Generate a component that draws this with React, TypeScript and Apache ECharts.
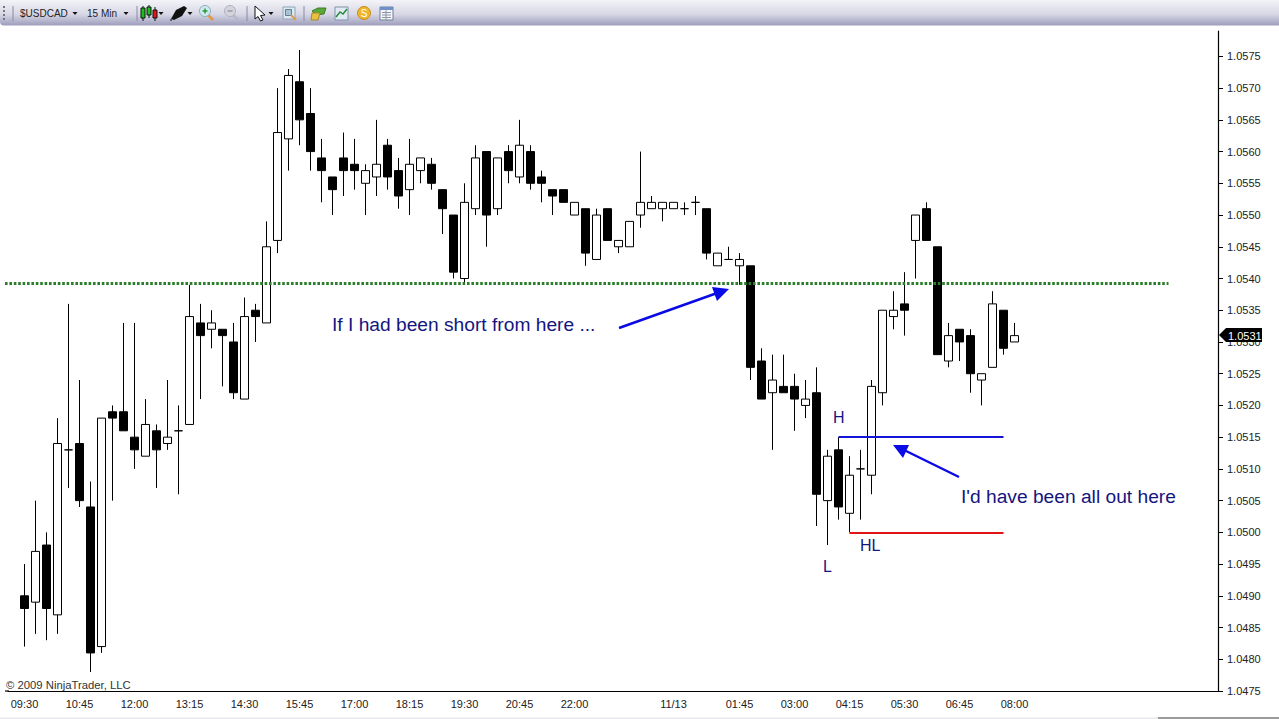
import React, { useEffect, useRef } from "react";
import * as echarts from "echarts";

const categories = [
  "09:30","09:45","10:00","10:15","10:30","10:45","11:00","11:15","11:30","11:45",
  "12:00","12:15","12:30","12:45","13:00","13:15","13:30","13:45","14:00","14:15",
  "14:30","14:45","15:00","15:15","15:30","15:45","16:00","16:15","16:30","16:45",
  "17:00","17:15","17:30","17:45","18:00","18:15","18:30","18:45","19:00","19:15",
  "19:30","19:45","20:00","20:15","20:30","20:45","21:00","21:15","21:30","21:45",
  "22:00","22:15","22:30","22:45","23:00","23:15","23:30","23:45","00:00","00:15",
  "00:30","00:45","01:00","01:15","01:30","01:45","02:00","02:15","02:30","02:45",
  "03:00","03:15","03:30","03:45","04:00","04:15","04:30","04:45","05:00","05:15",
  "05:30","05:45","06:00","06:15","06:30","06:45","07:00","07:15","07:30","07:45","08:00",
];
const tickTimes = ["09:30","10:45","12:00","13:15","14:30","15:45","17:00","18:15","19:30","20:45","22:00","23:15","00:15","01:45","03:00","04:15","05:30","06:45","08:00"];
const unlabelledTimes = ["23:15"];
const dateLabels: Record<string, string> = { "00:15": "11/13" };
const yTicks = [1.0475,1.048,1.0485,1.049,1.0495,1.05,1.0505,1.051,1.0515,1.052,1.0525,1.053,1.0535,1.054,1.0545,1.055,1.0555,1.056,1.0565,1.057,1.0575];

const opens = [1.0490,1.0489,1.0498,1.0487,1.0513,1.0514,1.0504,1.0482,1.0519,1.0519,1.0515,1.0512,1.0516,1.0514,1.0516,1.0517,1.0533,1.0532,1.0532,1.0530,1.0521,1.0535,1.0533,1.0546,1.0562,1.0571,1.0566,1.0559,1.0556,1.0559,1.0558,1.0555,1.0556,1.0561,1.0557,1.0554,1.0557,1.0558,1.0554,1.0550,1.0540,1.0551,1.0560,1.0551,1.0560,1.0556,1.0560,1.0556,1.0554,1.0554,1.0550,1.0551,1.0543,1.0551,1.0545,1.0545,1.0550,1.0551,1.0551,1.0551,1.0551,1.0552,1.0551,1.0542,1.0543,1.0542,1.0542,1.0527,1.0522,1.0523,1.0523,1.0520,1.0522,1.0505,1.0513,1.0503,1.0510,1.0509,1.0522,1.0534,1.0536,1.0546,1.0551,1.0545,1.0527,1.0532,1.0531,1.0524,1.0526,1.0535,1.0530];
const closes = [1.0488,1.0497,1.0488,1.0514,1.0513,1.0505,1.0481,1.0518,1.0518,1.0516,1.0513,1.0517,1.0513,1.0515,1.0516,1.0534,1.0531,1.0533,1.0531,1.0522,1.0534,1.0534,1.0545,1.0563,1.0572,1.0565,1.0560,1.0557,1.0554,1.0557,1.0557,1.0557,1.0558,1.0556,1.0553,1.0558,1.0559,1.0555,1.0551,1.0541,1.0552,1.0559,1.0550,1.0559,1.0557,1.0561,1.0555,1.0555,1.0553,1.0552,1.0552,1.0544,1.0550,1.0546,1.0546,1.0549,1.0552,1.0552,1.0552,1.0552,1.0551,1.0552,1.0544,1.0544,1.0543,1.0543,1.0526,1.0521,1.0524,1.0522,1.0521,1.0521,1.0506,1.0512,1.0504,1.0509,1.0510,1.0523,1.0535,1.0535,1.0535,1.0550,1.0546,1.0528,1.0531,1.0530,1.0525,1.0525,1.0536,1.0529,1.0531];
const lows = [1.0482,1.0484,1.0483,1.0484,1.0507,1.0504,1.0478,1.0481,1.0505,1.0516,1.0510,1.0512,1.0507,1.0513,1.0506,1.0517,1.0521,1.0529,1.0523,1.0521,1.0521,1.0530,1.0533,1.0544,1.0557,1.0561,1.0557,1.0552,1.0550,1.0553,1.0554,1.0550,1.0553,1.0554,1.0551,1.0550,1.0555,1.0554,1.0547,1.0540,1.0539,1.0550,1.0545,1.0550,1.0555,1.0555,1.0554,1.0552,1.0550,1.0552,1.0550,1.0542,1.0543,1.0546,1.0544,1.0545,1.0548,1.0551,1.0549,1.0551,1.0550,1.0550,1.0543,1.0542,1.0543,1.0539,1.0524,1.0521,1.0513,1.0522,1.0516,1.0518,1.0501,1.0498,1.0502,1.0500,1.0502,1.0506,1.0520,1.0532,1.0531,1.0540,1.0546,1.0528,1.0526,1.0527,1.0522,1.0520,1.0526,1.0528,1.0530];
const highs = [1.0495,1.0505,1.0500,1.0518,1.0536,1.0524,1.0508,1.0518,1.0520,1.0533,1.0533,1.0521,1.0517,1.0524,1.0520,1.0539,1.0536,1.0535,1.0532,1.0533,1.0537,1.0536,1.0549,1.0570,1.0573,1.0576,1.0570,1.0562,1.0556,1.0563,1.0562,1.0558,1.0565,1.0562,1.0559,1.0562,1.0559,1.0559,1.0554,1.0550,1.0555,1.0561,1.0560,1.0559,1.0561,1.0565,1.0561,1.0557,1.0554,1.0554,1.0552,1.0551,1.0551,1.0551,1.0546,1.0549,1.0560,1.0553,1.0552,1.0552,1.0552,1.0553,1.0551,1.0544,1.0545,1.0544,1.0542,1.0529,1.0528,1.0528,1.0525,1.0524,1.0526,1.0513,1.0515,1.0512,1.0513,1.0524,1.0535,1.0538,1.0541,1.0550,1.0552,1.0545,1.0533,1.0532,1.0532,1.0525,1.0538,1.0535,1.0533];

const resistanceLevel = 1.05392;
const highLevel = 1.05151;
const higherLowLevel = 1.04999;
const lastPrice = "1.0531";

const FONT = '"Liberation Sans", Arial, sans-serif';
const NAVY = "#15157f";
const ARROW = "#0a0ae6";

const LEFT_PAD = 1;
const RIGHT_PAD = 18;
const axisCategories = [
  ...Array.from({ length: LEFT_PAD }, (_, i) => `pad-l${i}`),
  ...categories,
  ...Array.from({ length: RIGHT_PAD }, (_, i) => `pad-r${i}`),
];
const candleData = [
  ...Array.from({ length: LEFT_PAD }, () => ["-", "-", "-", "-"]),
  ...categories.map((_, i) => [opens[i], closes[i], lows[i], highs[i]]),
];

const rect = (x: number, y: number, w: number, h: number, fill: string, stroke?: string) => ({
  type: "rect", z: 20, shape: { x, y, width: w, height: h }, style: { fill, stroke: stroke ?? "none", lineWidth: 1 },
});
const poly = (points: number[][], fill: string, stroke?: string, lineWidth = 1) => ({
  type: "polygon", z: 20, shape: { points }, style: { fill, stroke: stroke ?? "none", lineWidth },
});
const seg = (x1: number, y1: number, x2: number, y2: number, stroke: string, lineWidth = 1) => ({
  type: "line", z: 20, shape: { x1, y1, x2, y2 }, style: { stroke, lineWidth },
});
const label = (text: string, x: number, y: number, fontSize: number, fill: string, align = "left") => ({
  type: "text", z: 25, x, y,
  style: { text, fontSize, fontFamily: FONT, fill, align, verticalAlign: "middle" },
});
const caret = (x: number) => poly([[x - 2.5, 12], [x + 2.5, 12], [x, 15]], "#111");
const circle = (cx: number, cy: number, r: number, fill: string, stroke: string, lineWidth = 1) => ({
  type: "circle", z: 20, shape: { cx, cy, r }, style: { fill, stroke, lineWidth },
});

const toolbar: any[] = [
  {
    type: "rect", z: 19,
    shape: { x: 0, y: 0, width: 1279, height: 25.5, r: [0, 0, 0, 4] },
    style: {
      fill: new echarts.graphic.LinearGradient(0, 0, 0, 1, [
        { offset: 0, color: "#f3f3f8" },
        { offset: 0.55, color: "#d8d8e6" },
        { offset: 1, color: "#9d9dbd" },
      ]),
    },
  },
  rect(3, 6, 2, 2, "#777"), rect(3, 10, 2, 2, "#777"), rect(3, 14, 2, 2, "#777"), rect(3, 18, 2, 2, "#777"),
  seg(13, 6, 13, 21, "#8a8aa0"),
  label("$USDCAD", 20, 13.5, 10, "#222"),
  caret(75),
  label("15 Min", 87, 13.5, 10, "#222"),
  caret(126),
  seg(137, 6, 137, 21, "#8a8aa0"),
  seg(143, 6, 143, 21, "#111"), rect(141, 8, 4, 10, "#18c018", "#111"),
  seg(149, 5, 149, 18, "#111"), rect(147, 7, 4, 8, "#18c018", "#111"),
  seg(155, 7, 155, 21, "#111"), rect(153, 10, 4, 8, "#e01818", "#111"),
  caret(161),
  poly([[171, 19], [176, 10], [184, 6], [187, 8], [182, 16], [174, 20]], "#111"),
  seg(172, 20, 170, 20, "#111"),
  caret(190),
  seg(207, 14, 213, 20, "#e09a50", 3), circle(205, 11, 5.5, "#cfe8ee", "#88aebb"),
  seg(202.5, 11, 207.5, 11, "#2a9a3a", 1.5), seg(205, 8.5, 205, 13.5, "#2a9a3a", 1.5),
  seg(232, 14, 238, 20, "#b8b8c8", 3), circle(230, 11, 5.5, "#d4d4dc", "#b0b0bc"),
  seg(227.5, 11, 232.5, 11, "#9a9aa8", 1.5),
  seg(247, 6, 247, 21, "#8a8aa0"),
  poly([[255, 6], [255, 19], [258, 16.5], [260.5, 21], [263, 20], [260.5, 15.5], [265, 15]], "#fff", "#111"),
  caret(271),
  rect(283, 7, 12, 12, "#dfe7ef", "#8fa5b8"), rect(285.5, 9.5, 6, 6, "#a9c3d6", "#5f7f96"), seg(291, 15, 296, 20, "#e09a50", 2),
  seg(304, 6, 304, 21, "#8a8aa0"),
  poly([[312, 11], [318, 8], [326, 8], [324, 14], [316, 15]], "#5aa83a", "#3d7a28"),
  poly([[312, 13], [320, 13], [318, 20], [311, 20]], "#e8c040", "#a8862a"),
  rect(335, 7, 13, 13, "#dfe9f3", "#7f93a8"),
  { type: "polyline", z: 21, shape: { points: [[336, 17], [340, 12], [343, 14], [347, 9]] }, style: { stroke: "#2a8a3a", lineWidth: 1.5, fill: "none" } },
  circle(364, 13, 6.5, "#efb52c", "#c78a18"),
  label("S", 364, 13.5, 10, "#fff", "center"),
  rect(380, 7, 13, 13, "#f5f5fa", "#6f7f9a"), rect(380, 7, 13, 3, "#6f8fc8"),
  seg(382, 12.5, 391, 12.5, "#8a96aa"), seg(382, 15, 391, 15, "#8a96aa"), seg(382, 17.5, 391, 17.5, "#8a96aa"), seg(386, 10, 386, 20, "#8a96aa"),
];

const annotations: any[] = [
  seg(5, 691, 9, 691, "#000", 1.2),
  label("\u00a9 2009 NinjaTrader, LLC", 6, 684.5, 11.3, "#333"),
  label("If I had been short from here ...", 332, 324.5, 19.2, NAVY),
  label("I'd have been all out here", 961, 496.5, 19.2, NAVY),
  label("H", 833, 417, 16, NAVY),
  label("HL", 860, 545, 16, NAVY),
  label("L", 823, 566, 16, NAVY),
  seg(619, 328, 720, 292, ARROW, 2.4),
  poly([[729, 289], [712, 287], [717, 301]], ARROW),
  seg(959, 477, 902, 449, ARROW, 2.4),
  poly([[893, 445], [909, 445], [903, 458]], ARROW),
  poly([[1219, 335], [1226, 328], [1262, 328], [1262, 342], [1226, 342]], "#000"),
  label(lastPrice, 1228, 335.5, 11, "#fff"),
  rect(0, 717.5, 1158, 2, "#e8e8ee"),
  rect(1158, 717, 121, 2, "#9a9a9a"),
];

export default function App() {
  const ref = useRef<HTMLDivElement>(null);
  useEffect(() => {
    const chart = echarts.init(ref.current!, undefined, { renderer: "svg" });
    chart.setOption({
      animation: false,
      backgroundColor: "#ffffff",
      grid: { left: 8, top: 31, width: 1210, height: 660 },
      xAxis: {
        type: "category",
        data: axisCategories,
        boundaryGap: true,
        axisLine: { lineStyle: { color: "#000", width: 1.2 } },
        axisTick: {
          alignWithLabel: true,
          length: 6,
          lineStyle: { color: "#000" },
          interval: (_: number, v: string) => tickTimes.includes(v),
        },
        axisLabel: {
          fontFamily: FONT,
          fontSize: 11,
          color: "#222",
          margin: 7,
          interval: (_: number, v: string) => tickTimes.includes(v) && !unlabelledTimes.includes(v),
          formatter: (v: string) => dateLabels[v] ?? v,
        },
        splitLine: { show: false },
      },
      yAxis: {
        type: "value",
        position: "right",
        min: 1.0475,
        max: 1.0579,
        scale: true,
        axisLine: { show: true, lineStyle: { color: "#000", width: 1.2 } },
        axisTick: { show: true, length: 5, lineStyle: { color: "#000" }, customValues: yTicks },
        axisLabel: {
          fontFamily: FONT,
          fontSize: 11,
          color: "#222",
          margin: 9,
          customValues: yTicks,
          formatter: (v: number) => v.toFixed(4),
        },
        splitLine: { show: false },
      },
      series: [
        {
          type: "candlestick",
          data: candleData,
          barWidth: 9,
          clip: false,
          itemStyle: { color: "#ffffff", color0: "#000000", borderColor: "#000000", borderColor0: "#000000", borderWidth: 1 },
          markLine: {
            silent: true,
            symbol: "none",
            label: { show: false },
            emphasis: { disabled: true },
            data: [
              [
                { x: 5, yAxis: resistanceLevel, lineStyle: { color: "#2c7d2c", width: 3, type: [2.6, 1.8] } },
                { xAxis: 105, yAxis: resistanceLevel },
              ],
              [
                { coord: [75, highLevel], lineStyle: { color: "#1515d8", width: 2, type: "solid" } },
                { coord: [90, highLevel] },
              ],
              [
                { coord: [76, higherLowLevel], lineStyle: { color: "#e01414", width: 2, type: "solid" } },
                { coord: [90, higherLowLevel] },
              ],
            ],
          },
        },
      ],
      graphic: { elements: [...toolbar, ...annotations] },
    });
    return () => chart.dispose();
  }, []);
  return <div ref={ref} style={{ position: "fixed", left: 0, top: 0, width: 1279, height: 719 }} />;
}
